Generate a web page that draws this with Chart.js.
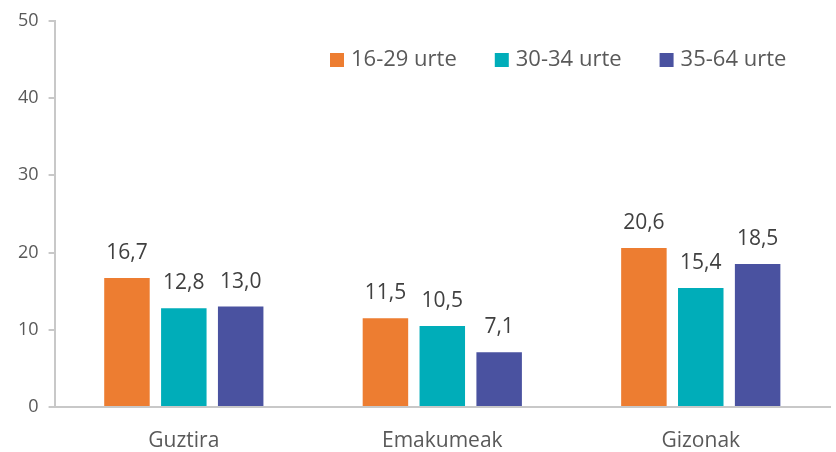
<!DOCTYPE html>
<html>
<head>
<meta charset="utf-8">
<script src="https://cdn.jsdelivr.net/npm/chart.js@4"></script>
<style>
  html, body { margin: 0; padding: 0; background: #fff; }
  #wrap { width: 836px; height: 452px; }
</style>
</head>
<body>
<div id="wrap"><canvas id="grafikoa"></canvas></div>
<script>
const kategoriak = ['Guztira', 'Emakumeak', 'Gizonak'];
const adinak = ['16-29 urte', '30-34 urte', '35-64 urte'];
const balioak16 = [16.7, 11.5, 20.6];
const balioak30 = [12.8, 10.5, 15.4];
const balioak35 = [13.0, 7.1, 18.5];
const koloreak = ['#ED7D31', '#00ADB9', '#4A52A0'];
const yTikak = [0, 10, 20, 30, 40, 50];

const letra = '"Open Sans", "Noto Sans", sans-serif';

// balioak barren gainean idazteko
const etiketak = {
  id: 'etiketak',
  afterDatasetsDraw(chart) {
    const ctx = chart.ctx;
    ctx.save();
    ctx.font = '21px ' + letra;
    ctx.fillStyle = '#404040';
    ctx.textAlign = 'center';
    ctx.textBaseline = 'middle';
    chart.data.datasets.forEach((ds, i) => {
      chart.getDatasetMeta(i).data.forEach((bar, j) => {
        ctx.fillText(ds.data[j].toFixed(1).replace('.', ','), bar.x, bar.y - 25);
      });
    });
    ctx.restore();
  }
};

// legenda grafikoaren barruan, goian eskuinean
const legenda = {
  id: 'legenda',
  afterDraw(chart) {
    const ctx = chart.ctx;
    ctx.save();
    ctx.font = '22px ' + letra;
    ctx.textBaseline = 'middle';
    let x = 330;
    const y = 60;
    chart.data.datasets.forEach(ds => {
      ctx.fillStyle = ds.backgroundColor;
      ctx.fillRect(x, y - 7, 14, 14);
      ctx.fillStyle = '#595959';
      ctx.fillText(ds.label, x + 21, y);
      x += 21 + ctx.measureText(ds.label).width + 38;
    });
    ctx.restore();
  }
};

new Chart(document.getElementById('grafikoa'), {
  type: 'bar',
  data: {
    labels: kategoriak,
    datasets: [
      { label: adinak[0], data: balioak16, backgroundColor: koloreak[0] },
      { label: adinak[1], data: balioak30, backgroundColor: koloreak[1] },
      { label: adinak[2], data: balioak35, backgroundColor: koloreak[2] }
    ]
  },
  options: {
    responsive: true,
    maintainAspectRatio: false,
    animation: false,
    layout: { padding: { top: 12, right: 6, left: 8, bottom: 0 } },
    datasets: { bar: { categoryPercentage: 0.66, barPercentage: 0.8 } },
    plugins: {
      legend: { display: false },
      tooltip: { enabled: false }
    },
    scales: {
      x: {
        afterFit(axis) {
          axis.height = 45;
        },
        grid: { display: false },
        border: { color: '#C8C8C8', width: 2 },
        ticks: { color: '#595959', font: { family: letra, size: 21, lineHeight: 0.63 }, padding: 19 }
      },
      y: {
        min: 0,
        max: 50,
        afterBuildTicks(axis) {
          axis.ticks = yTikak.map(v => ({ value: v }));
        },
        grid: { drawOnChartArea: false, drawTicks: true, tickLength: 6, color: '#C8C8C8', lineWidth: 2 },
        border: { color: '#C8C8C8', width: 2 },
        ticks: { color: '#595959', font: { family: letra, size: 18 }, padding: 10 }
      }
    }
  },
  plugins: [etiketak, legenda]
});
</script>
</body>
</html>
